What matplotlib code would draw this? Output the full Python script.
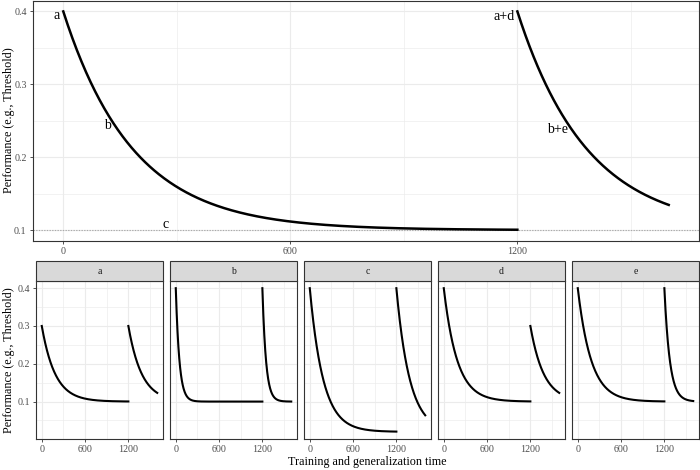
import numpy as np
import matplotlib
matplotlib.use("Agg")
import matplotlib.pyplot as plt
from matplotlib.patches import Rectangle

plt.rcParams['font.family'] = ['Liberation Serif', 'DejaVu Serif']

# model parameters
# a = starting level, b = training time constant, c = asymptote,
# d = shift of the start level at transfer, e = shift of the time constant at transfer
train_end = 1200
gen_end = 1600

top_a, top_b, top_c, top_d, top_e = 0.4, 185, 0.1, 0.0, 0

facet_names = ["a", "b", "c", "d", "e"]
facet_a = [0.3, 0.4, 0.4, 0.4, 0.4]
facet_b = [185, 50, 185, 185, 185]
facet_c = [0.1, 0.1, 0.02, 0.1, 0.1]
facet_d = [0.0, 0.0, 0.0, -0.1, 0.0]
facet_e = [0, 0, 0, 0, -110]

x_ticks = [0, 600, 1200]
y_ticks = [0.1, 0.2, 0.3, 0.4]

tick_col = "#4D4D4D"
frame_col = "#333333"
grid_col = "#EBEBEB"


def curves(a, b, c, d, e):
    t1 = np.linspace(0, train_end, 500)
    y1 = c + (a - c) * np.exp(-t1 / b)
    t2 = np.linspace(train_end, gen_end, 300)
    y2 = c + (a + d - c) * np.exp(-(t2 - train_end) / (b + e))
    return t1, y1, t2, y2


def style(ax, ylim, minor_y):
    ax.set_xlim(-80, 1680)
    ax.set_ylim(*ylim)
    ax.set_xticks(x_ticks)
    ax.set_xticks([300, 900, 1500], minor=True)
    ax.set_yticks(y_ticks)
    ax.set_yticks(minor_y, minor=True)
    ax.grid(which="major", color=grid_col, lw=0.8)
    ax.grid(which="minor", color=grid_col, lw=0.45)
    ax.set_axisbelow(True)
    for s in ax.spines.values():
        s.set_color(frame_col)
        s.set_linewidth(0.8)
    ax.tick_params(which="major", length=2.5, width=0.6, color=frame_col,
                   labelsize=7.2, labelcolor=tick_col, pad=2)
    ax.tick_params(which="minor", length=0)


fig = plt.figure(figsize=(7, 4.7), dpi=100)
W, H = 700, 470

# top panel
ax = fig.add_axes([33 / W, (H - 241) / H, 666 / W, 240.5 / H])
style(ax, (0.085, 0.415), [0.15, 0.25, 0.35])
t1, y1, t2, y2 = curves(top_a, top_b, top_c, top_d, top_e)
ax.axhline(top_c, color="#AAAAAA", lw=0.8, ls=(0, (1.2, 1.2)))
ax.plot(t1, y1, color="black", lw=1.8)
ax.plot(t2, y2, color="black", lw=1.8)
ax.text(-8, 0.394, "a", ha="right", va="center", fontsize=10)
ax.text(116, 0.243, "b", ha="center", va="center", fontsize=10)
ax.text(271, 0.107, "c", ha="center", va="center", fontsize=10)
ax.text(1192, 0.393, "a+d", ha="right", va="center", fontsize=10)
ax.text(1306, 0.238, "b+e", ha="center", va="center", fontsize=10)
fig.text(9 / W, (H - 120) / H, "Performance (e.g., Threshold)", rotation=90,
         ha="center", va="center", fontsize=8.7)

# facets
lefts = [36, 170, 304, 438, 572]
pw = 127
for i, name in enumerate(facet_names):
    fx = fig.add_axes([lefts[i] / W, (H - 439) / H, pw / W, 158 / H])
    style(fx, (0.001, 0.419), [0.05, 0.15, 0.25, 0.35])
    t1, y1, t2, y2 = curves(facet_a[i], facet_b[i], facet_c[i], facet_d[i], facet_e[i])
    fx.plot(t1, y1, color="black", lw=1.5)
    fx.plot(t2, y2, color="black", lw=1.5)
    if i > 0:
        fx.tick_params(axis="y", labelleft=False, length=0)
    fig.patches.append(Rectangle((lefts[i] / W, (H - 281) / H), pw / W, 20 / H,
                                 transform=fig.transFigure, facecolor="#D9D9D9",
                                 edgecolor=frame_col, lw=0.8))
    fig.text((lefts[i] + pw / 2) / W, (H - 271) / H, name, ha="center", va="center",
             fontsize=7, color="#1A1A1A")

fig.text(9 / W, (H - 360) / H, "Performance (e.g., Threshold)", rotation=90,
         ha="center", va="center", fontsize=8.7)
fig.text(367 / W, (H - 462) / H, "Training and generalization time", ha="center",
         va="center", fontsize=8.7)

fig.savefig("out.png", dpi=100)
